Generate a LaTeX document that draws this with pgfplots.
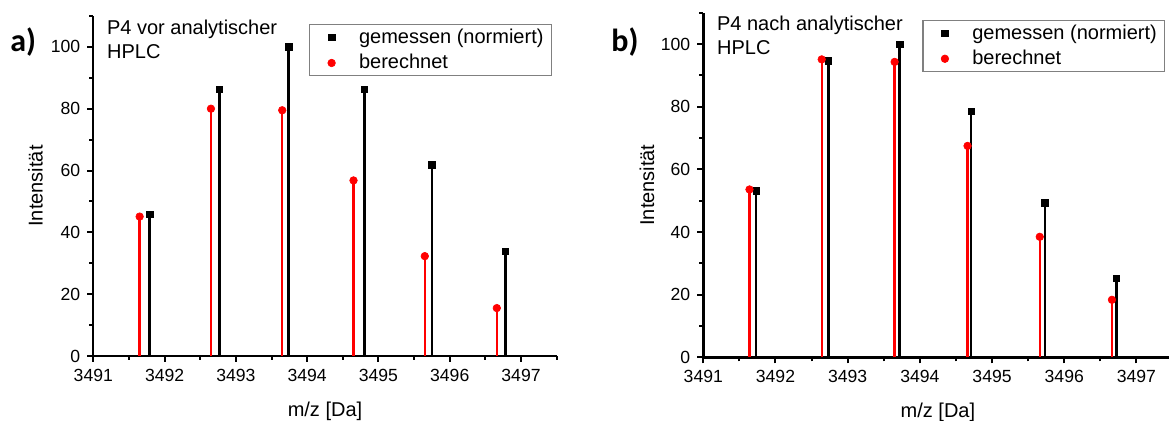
\documentclass[border=0pt]{standalone}
\usepackage{fontspec}
\setmainfont{Liberation Sans}
\newfontfamily\panelfont{Carlito}
\usepackage{pgfplots}
\usepackage{pgfplotstable}
\pgfplotsset{compat=1.18}

% panel a: vor HPLC
\pgfplotstableread{
x y
3491.79 45.8
3492.77 86.2
3493.74 100
3494.80 86.2
3495.75 61.9
3496.78 33.8
}\gemA
\pgfplotstableread{
x y
3491.65 45.1
3492.65 80.0
3493.65 79.5
3494.65 56.8
3495.65 32.3
3496.66 15.5
}\berA
% panel b: nach HPLC
\pgfplotstableread{
x y
3491.73 53.2
3492.73 94.7
3493.72 100
3494.71 78.5
3495.73 49.3
3496.72 25.2
}\gemB
\pgfplotstableread{
x y
3491.64 53.6
3492.64 95.1
3493.65 94.3
3494.66 67.5
3495.66 38.5
3496.66 18.4
}\berB

\pgfplotsset{
  ms/.style={
    scale only axis,
    axis lines=left,
    axis line style={line width=1.2pt,-},
    xmin=3491, xmax=3497.5, ymin=0, ymax=110,
    xtick={3491,...,3497},
    minor xtick={3491.5,3492.5,...,3497.5},
    ytick={0,20,...,100},
    minor ytick={10,30,...,110},
    tick align=outside,
    major tick length=3pt, minor tick length=2pt,
    tick style={black, line width=1pt},
    tick label style={font=\fontsize{8.8}{10}\selectfont},
    /pgf/number format/assume math mode=true,
    /pgf/number format/1000 sep={},
    xlabel={m/z [Da]}, ylabel={Intensität},
    label style={font=\fontsize{10}{12}\selectfont},
    legend cell align=left,
    legend style={draw=gray, line width=0.6pt, anchor=north west,
      font=\fontsize{10}{12}\selectfont,
      inner xsep=3pt, inner ysep=1pt, nodes={inner sep=1pt}, row sep=2pt,
      /tikz/every odd column/.append style={column sep=4.7pt}},
    legend image code/.code={
      \path[draw=none, fill=none] (-8pt,0pt) -- (8pt,0pt);
      \draw[mark repeat=2, mark phase=2] plot coordinates {(-4pt,0pt) (0pt,0pt) (4pt,0pt)};},
    clip=false,
  },
  stemk/.style={ycomb, black, line width=1.3pt, no marks, forget plot},
  stemr/.style={ycomb, red, line width=1.2pt, no marks, forget plot},
  markk/.style={only marks, mark=square*, black, mark size=1.6pt, mark options={line width=0.3pt}},
  markr/.style={only marks, mark=*, red, mark size=1.9pt, mark options={line width=0.3pt}},
}

\begin{document}
\begin{tikzpicture}
\useasboundingbox (0pt,0pt) rectangle (584.5pt,210.5pt);

\begin{axis}[ms,
  at={(46.65pt,32.5pt)}, anchor=south west,
  width=231.7pt, height=170pt,
  xlabel style={at={(axis description cs:0.5,-0.115)}, anchor=north},
  ylabel style={at={(axis description cs:-0.125,0.5)}, anchor=center},
  legend style={at={(0.4655,0.976)}},
]
\addplot[stemk] table {\gemA};
\addplot[markk] table {\gemA};
\addlegendentry{gemessen (normiert)\hspace{5pt}}
\addplot[stemr] table {\berA};
\addplot[markr] table {\berA};
\addlegendentry{berechnet}
\end{axis}

\begin{axis}[ms,
  at={(351.65pt,31.75pt)}, anchor=south west,
  width=234.65pt, height=172.4pt,
  xlabel style={at={(axis description cs:0.5,-0.112)}, anchor=north},
  ylabel style={at={(axis description cs:-0.12,0.5)}, anchor=center},
  legend style={at={(0.4667,0.979)}},
]
\addplot[stemk] table {\gemB};
\addplot[markk] table {\gemB};
\addlegendentry{gemessen (normiert)\hspace{5pt}}
\addplot[stemr] table {\berB};
\addplot[markr] table {\berB};
\addlegendentry{berechnet}
\end{axis}

\begin{scope}[every node/.style={anchor=base west, inner sep=0pt, font=\fontsize{10}{12}\selectfont}]
\node at (53.35pt,193.35pt) {P4 vor analytischer};
\node at (53.35pt,181pt) {HPLC};
\node at (358.35pt,195.15pt) {P4 nach analytischer};
\node at (358.35pt,183pt) {HPLC};
\end{scope}
\node[anchor=base west, inner sep=0pt, font=\fontsize{16}{18}\selectfont\panelfont\bfseries] at (5pt,184.5pt) {a)};
\node[anchor=base west, inner sep=0pt, font=\fontsize{16}{18}\selectfont\panelfont\bfseries] at (305.5pt,184.65pt) {b)};
\end{tikzpicture}
\end{document}
